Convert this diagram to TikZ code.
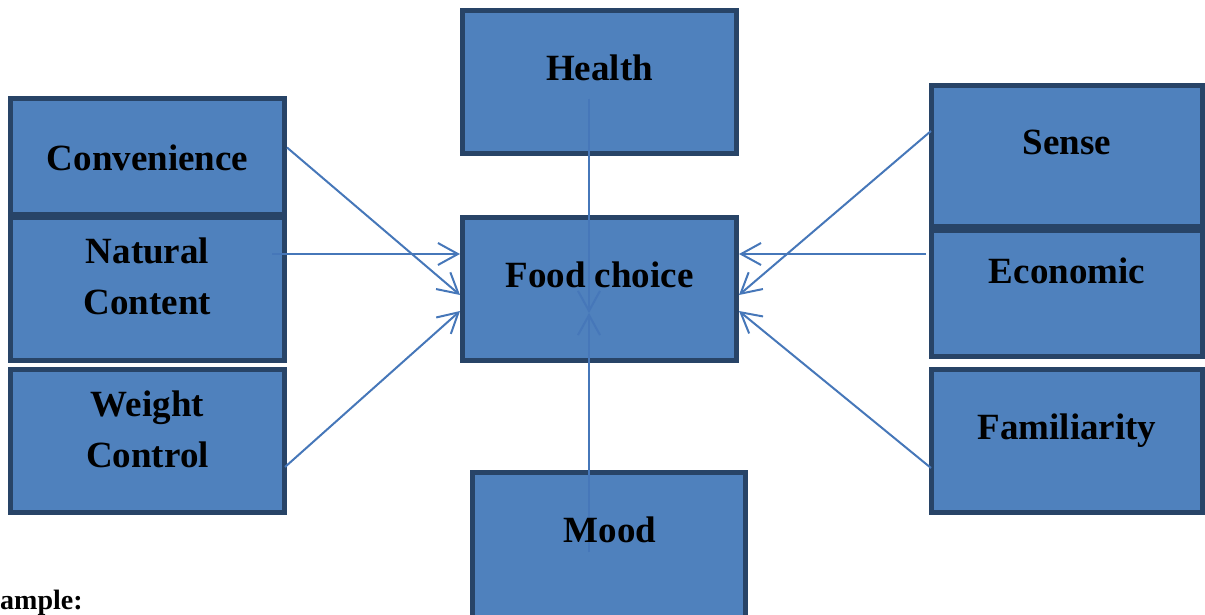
\documentclass[tikz,border=0pt]{standalone}
\usepackage{fontspec}
\setmainfont{Liberation Serif}
\usetikzlibrary{arrows.meta}
\definecolor{boxfill}{HTML}{4F81BD}
\definecolor{boxline}{HTML}{284467}
\definecolor{conncol}{HTML}{4677B9}
\begin{document}
\begin{tikzpicture}[x=1pt,y=-1pt,
  box/.style={draw=boxline,fill=boxfill,line width=5pt,rectangle,inner sep=0pt},
  lbl/.style={font=\fontsize{37}{51}\selectfont\bfseries,anchor=base,inner sep=0pt,align=center},
  conn/.style={draw=conncol,line width=2pt,-{Straight Barb[length=20pt,width=22pt]}}]
\useasboundingbox (0,0) rectangle (1205,615);
% boxes
\node[box,minimum width=274pt,minimum height=143pt] (health) at (599.5,82) {};
\node[box,minimum width=274pt,minimum height=115pt] (conv) at (147.5,156.5) {};
\node[box,minimum width=274pt,minimum height=143pt] (nat) at (147.5,289) {};
\node[box,minimum width=274pt,minimum height=143pt] (wc) at (147.5,441) {};
\node[box,minimum width=274pt,minimum height=143pt] (food) at (599.5,289) {};
\node[box,minimum width=273pt,minimum height=145pt] (mood) at (609,545) {};
\node[box,minimum width=271pt,minimum height=141pt] (sense) at (1067,156) {};
\node[box,minimum width=271pt,minimum height=126pt] (econ) at (1067,293.5) {};
\node[box,minimum width=271pt,minimum height=143pt] (fam) at (1067,441) {};
% connectors
\coordinate (meet) at ([xshift=-10.5pt,yshift=-24pt]food.center);
\draw[conn] ([yshift=9pt]conv.east) -- ([yshift=-6pt]food.west);
\draw[conn] ([xshift=-15pt,yshift=35pt]nat.east) -- ([yshift=35pt]food.west);
\draw[conn] ([xshift=-2pt,yshift=-26pt]wc.east) -- ([yshift=-22pt]food.west);
\draw[conn] ([xshift=2pt,yshift=25pt]sense.west) -- ([yshift=-6pt]food.east);
\draw[conn] ([xshift=-3pt,yshift=39.5pt]econ.west) -- ([yshift=35pt]food.east);
\draw[conn] ([xshift=2pt,yshift=-27pt]fam.west) -- ([yshift=-22pt]food.east);
\draw[conn] ([xshift=-10.5pt,yshift=-17pt]health.center) -- (meet);
\draw[conn] ([xshift=-20pt,yshift=-7pt]mood.center) -- (meet);
% labels
\node[lbl] (healtht) at (599.5,81) {Health};
\node[lbl] (convt) at (147.5,171) {Convenience};
\node[lbl] (natt) at (147.5,314) {Natural\\Content};
\node[lbl] (wct) at (147.5,467) {Weight\\Control};
\node[lbl] (foodt) at (599.5,287) {Food choice};
\node[lbl] (moodt) at (610,542) {Mood};
\node[lbl] (senset) at (1067,154) {Sense};
\node[lbl] (econt) at (1067,283) {Economic};
\node[lbl] (famt) at (1067,439) {Familiarity};
\node[font=\fontsize{28}{32}\selectfont\bfseries,anchor=base west,inner sep=0pt] (ex) at (0,609) {ample:};
\end{tikzpicture}
\end{document}
